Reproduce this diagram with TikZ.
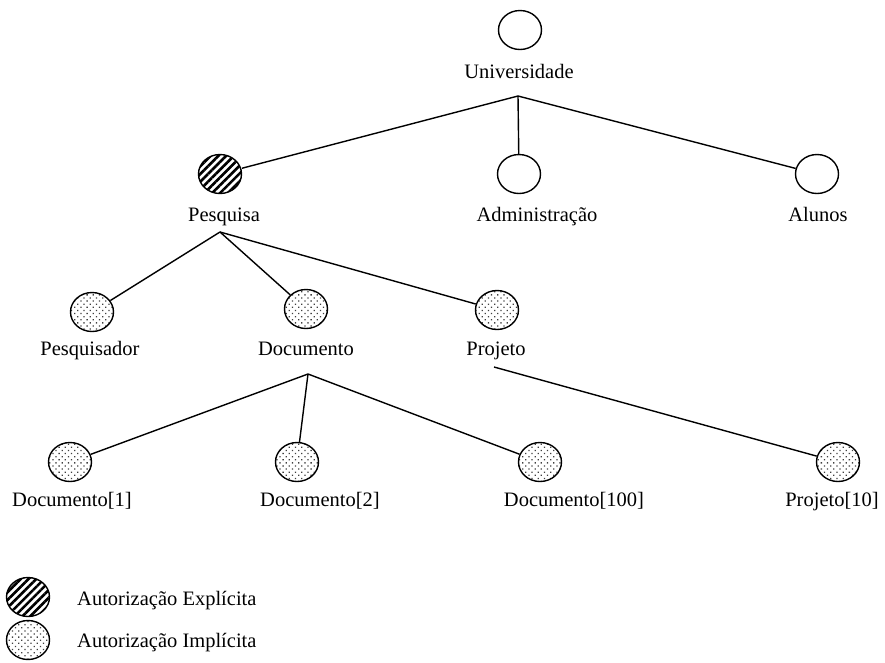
\documentclass[tikz,border=0pt]{standalone}
\usepackage{fontspec}
\setmainfont{Liberation Serif}
\usetikzlibrary{shapes.geometric,patterns.meta}
\begin{document}
\begin{tikzpicture}[x=1pt,y=-1pt,
  every node/.style={font=\fontsize{20.5}{24}\selectfont},
  circ/.style={draw,line width=1.4pt,ellipse,inner sep=0pt,minimum width=43pt,minimum height=39pt},
  plain/.style={circ,fill=white},
  explicit/.style={circ,pattern={Lines[angle=45,distance=5.5pt,line width=2.6pt]}},
  implicit/.style={circ,pattern={Dots[angle=45,distance=4.4pt,radius=0.9pt]},pattern color=black!75},
  lbl/.style={inner sep=0pt,anchor=base},
  link/.style={line width=1.4pt}]
\useasboundingbox (0,0) rectangle (885,662);

% level 0
\node[plain] (univ) at (520,30) {};
\node[lbl] (univL) at (519,78) {Universidade};
\coordinate (ju) at (518,96);

% level 1
\node[explicit] (pes) at (220,174) {};
\node[lbl] (pesL) at (224,221) {Pesquisa};
\coordinate (jp) at (220,232);
\node[plain] (adm) at (519,174) {};
\node[lbl] (admL) at (537,221) {Administração};
\node[plain] (alu) at (817,174) {};
\node[lbl] (aluL) at (818,221) {Alunos};

% level 2
\node[implicit] (psd) at (92,312) {};
\node[lbl] (psdL) at (90,355) {Pesquisador};
\node[implicit] (doc) at (306,309) {};
\node[lbl] (docL) at (306,355) {Documento};
\coordinate (jd) at (308,374);
\node[implicit] (prj) at (497,310) {};
\node[lbl] (prjL) at (496,355) {Projeto};
\coordinate (jj) at (494,367);

% level 3
\node[implicit] (d1) at (70,462) {};
\node[lbl] (d1L) at (72,506) {Documento[1]};
\node[implicit] (d2) at (297,462) {};
\node[lbl] (d2L) at (320,506) {Documento[2]};
\node[implicit] (d100) at (540,462) {};
\node[lbl] (d100L) at (574,506) {Documento[100]};
\node[implicit] (p10) at (838,462) {};
\node[lbl] (p10L) at (832,506) {Projeto[10]};

% connectors
\draw[link] (ju) -- (pes);
\draw[link] (ju) -- (adm);
\draw[link] (ju) -- (alu);
\draw[link] (jp) -- (psd);
\draw[link] (jp) -- (doc);
\draw[link] (jp) -- (prj);
\draw[link] (jd) -- (d1);
\draw[link] (jd) -- (d2);
\draw[link] (jd) -- (d100);
\draw[link] (jj) -- (p10);

% key
\node[explicit] (kexp) at (28,597) {};
\node[lbl,anchor=base west] (kexpL) at (77,605) {Autorização Explícita};
\node[implicit] (kimp) at (28,640) {};
\node[lbl,anchor=base west] (kimpL) at (77,647) {Autorização Implícita};
\end{tikzpicture}
\end{document}
